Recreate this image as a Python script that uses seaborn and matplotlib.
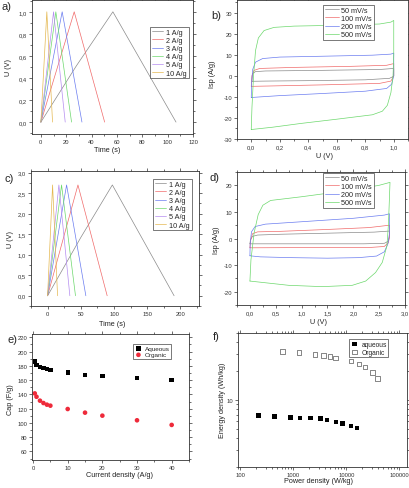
import matplotlib
matplotlib.use("Agg")
import matplotlib.pyplot as plt
import matplotlib.ticker as mticker
import seaborn as sns
import numpy as np

# ---------------- data ----------------
rates = ['1 A/g', '2 A/g', '3 A/g', '4 A/g', '5 A/g', '10 A/g']
gcd_colors = ['#8a8a8a', '#f06a6a', '#6a7cf0', '#6cd86c', '#b48cf0', '#e4b850']

# a) aqueous charge/discharge: time (s) and voltage (V)
a_time = [[0, 28, 56.8, 106.6], [0, 26.3, 50.3], [0, 16.8, 32.4],
          [0, 11.8, 24.2], [0, 10.0, 19.2], [0, 4.7, 9.2]]
a_volt = [[0, 0.51, 1.0, 0], [0, 1.0, 0], [0, 1.0, 0],
          [0, 1.0, 0], [0, 1.0, 0], [0, 1.0, 0]]

# c) organic charge/discharge
c_time = [[0, 50, 97.5, 190.5], [0, 45.7, 89.7], [0, 28.6, 57.6],
          [0, 21.0, 42.0], [0, 17.0, 33.5], [0, 7.5, 15.0]]
c_volt = [[0, 1.42, 2.7, 0], [0, 2.7, 0], [0, 2.7, 0],
          [0, 2.7, 0], [0, 2.7, 0], [0, 2.7, 0]]

scans = ['50 mV/s', '100 mV/s', '200 mV/s', '500 mV/s']
cv_colors = ['#8a8a8a', '#f06a6a', '#6a7cf0', '#6cd86c']

# b) aqueous CV loops: potential (V), specific current (A/g)
b_u = [
    [0.005, 0.008, 0.03, 0.1, 0.5, 0.9, 1.0, 1.0, 0.97, 0.8, 0.4, 0.1, 0.005],
    [0.0, 0.005, 0.02, 0.06, 0.3, 0.7, 0.95, 1.0, 1.0, 0.98, 0.9, 0.5, 0.15, 0.0],
    [0.0, 0.003, 0.01, 0.03, 0.08, 0.2, 0.5, 0.85, 0.98, 1.0, 1.0, 0.985, 0.95,
     0.8, 0.5, 0.2, 0.02, 0.0],
    [0.0, 0.005, 0.016, 0.03, 0.05, 0.09, 0.16, 0.3, 0.6, 0.9, 0.98, 1.0, 1.0,
     0.995, 0.98, 0.955, 0.92, 0.85, 0.6, 0.35, 0.15, 0.0],
]
b_i = [
    [-2.6, 1.0, 2.0, 2.3, 2.6, 3.0, 3.5, -0.2, -1.2, -1.9, -2.3, -2.5, -2.6],
    [-5.0, 0.0, 2.6, 3.5, 4.0, 4.5, 5.0, 5.8, 0.0, -2.5, -3.6, -4.3, -4.8, -5.0],
    [-10.3, -3.0, 3.0, 6.5, 8.2, 8.9, 9.3, 9.8, 10.3, 10.8, 0.0, -4.0, -6.0,
     -7.3, -8.4, -9.4, -10.2, -10.3],
    [-25.5, -15.0, 0.0, 12.0, 18.0, 21.5, 23.0, 23.6, 24.0, 24.6, 25.5, 26.3, 10.0,
     0.0, -8.0, -14.0, -16.8, -18.5, -20.6, -22.6, -24.4, -25.5],
]

# d) organic CV loops
d_u = [
    [0.0, 0.01, 0.05, 0.15, 0.6, 1.5, 2.4, 2.7, 2.7, 2.68, 2.6, 2.2, 1.0, 0.0],
    [0.0, 0.01, 0.05, 0.15, 0.6, 1.5, 2.3, 2.7, 2.7, 2.68, 2.6, 2.3, 1.2, 0.0],
    [0.0, 0.005, 0.03, 0.1, 0.3, 1.0, 2.0, 2.6, 2.7, 2.7, 2.67, 2.6, 2.45, 2.1,
     1.5, 0.8, 0.2, 0.0],
    [0.0, 0.02, 0.08, 0.16, 0.25, 0.4, 1.0, 1.5, 2.0, 2.5, 2.71, 2.68, 2.65,
     2.56, 2.43, 2.24, 1.98, 1.4, 0.75, 0.0],
]
d_i = [
    [-2.0, -0.5, 0.8, 1.3, 1.6, 2.0, 2.4, 2.8, 0.5, -1.0, -1.8, -2.0, -2.0, -2.0],
    [-3.5, -1.0, 1.8, 2.5, 2.7, 3.4, 4.1, 5.0, 1.0, -1.5, -3.0, -3.4, -3.4, -3.5],
    [-6.5, -2.0, 2.5, 4.5, 5.4, 6.3, 7.6, 8.8, 9.3, 2.0, -2.0, -5.0, -6.6, -7.2,
     -7.4, -7.2, -6.9, -6.5],
    [-16.0, -8.0, 2.0, 9.0, 12.5, 14.3, 15.7, 17.0, 18.3, 20.0, 21.1, 5.4, -2.8,
     -9.0, -12.8, -16.0, -17.6, -18.1, -17.6, -16.0],
]

# e) specific capacitance vs current density
e_current = [0.5, 1, 2, 3, 4, 5, 10, 15, 20, 30, 40]
e_aqueous = [186, 181.4, 178.1, 176.7, 175.8, 174.4, 170.7, 167.4, 165.6, 162.8, 160.5]
e_organic = [141.4, 136.7, 131.2, 127.9, 125.6, 124.2, 119.5, 114.4, 110.2, 103.7, 97.2]

# f) Ragone plot
f_aq_power = [219, 441, 885, 1327, 2117, 3273, 4365, 6380, 8420, 12100, 15960]
f_aq_energy = [6.9, 6.73, 6.57, 6.52, 6.47, 6.42, 6.17, 5.92, 5.69, 5.37, 5.08]
f_org_power = [624, 1271, 2553, 3724, 4980, 6195, 12100, 17180, 22600, 31100, 38700]
f_org_energy = [32.2, 31.2, 29.7, 29.0, 28.3, 27.6, 25.7, 23.9, 22.2, 19.4, 16.8]

# ---------------- figure ----------------
sns.set_style("ticks")
plt.rcParams['font.family'] = ['Liberation Sans', 'DejaVu Sans']

W, H = 409, 489
fig = plt.figure(figsize=(W / 100, H / 100), dpi=100)


def fxy(x, y):
    return (x / W, 1 - y / H)


def add_ax(l, t, r, b):
    return fig.add_axes([l / W, 1 - b / H, (r - l) / W, (b - t) / H])


def comma(fmt):
    return mticker.FuncFormatter(lambda v, p: fmt.format(v).replace('.', ','))


def style(ax):
    for s in ax.spines.values():
        s.set_linewidth(0.6)
        s.set_color('#333333')
    ax.tick_params(which='both', direction='out', top=True, right=True, width=0.5,
                   labelsize=4.2, pad=1.5, color='#333333', labelcolor='#333333')
    ax.tick_params(which='major', length=2)
    ax.tick_params(which='minor', length=1.1)


def labels(ax, xl, xpos, yl, ypos):
    ax.set_xlabel(xl, fontsize=5.2, va='center', color='#222222')
    ax.xaxis.set_label_coords(*fxy(*xpos), transform=fig.transFigure)
    ax.set_ylabel(yl, fontsize=5.2, va='center', color='#222222')
    ax.yaxis.set_label_coords(*fxy(*ypos), transform=fig.transFigure)


def legend(ax, x, y, fs, **kw):
    leg = ax.legend(loc='upper left', bbox_to_anchor=fxy(x, y),
                    bbox_transform=fig.transFigure, borderaxespad=0, fontsize=fs,
                    frameon=True, fancybox=False, framealpha=1, edgecolor='#444444',
                    borderpad=0.25, labelspacing=0.15, handletextpad=0.4, **kw)
    leg.get_frame().set_linewidth(0.5)
    return leg


def panel(x, y, s):
    fig.text(*fxy(x, y), s, fontsize=8, ha='center', va='center')


# a)
ax = add_ax(32, 1, 193, 135)
for t, u, name, c in zip(a_time, a_volt, rates, gcd_colors):
    sns.lineplot(x=t, y=u, sort=False, estimator=None, color=c, lw=0.5, label=name, ax=ax)
ax.set_xlim(-7, 120)
ax.set_ylim(-0.108, 1.107)
ax.xaxis.set_major_locator(mticker.MultipleLocator(20))
ax.xaxis.set_minor_locator(mticker.MultipleLocator(10))
ax.yaxis.set_major_locator(mticker.MultipleLocator(0.2))
ax.yaxis.set_minor_locator(mticker.MultipleLocator(0.1))
ax.yaxis.set_major_formatter(comma('{:.1f}'))
style(ax)
labels(ax, 'Time (s)', (107, 151), 'U (V)', (8, 68))
legend(ax, 150, 28, 5.2, handlelength=1.6)
panel(6, 7, 'a)')

# b)
ax = add_ax(237, 1, 408, 140)
for u, i, name, c in zip(b_u, b_i, scans, cv_colors):
    sns.lineplot(x=u, y=i, sort=False, estimator=None, color=c, lw=0.5, label=name, ax=ax)
ax.set_xlim(-0.1, 1.1)
ax.set_ylim(-30, 36)
ax.xaxis.set_major_locator(mticker.MultipleLocator(0.2))
ax.xaxis.set_minor_locator(mticker.MultipleLocator(0.1))
ax.yaxis.set_major_locator(mticker.FixedLocator([-30, -20, -10, 0, 10, 20, 30]))
ax.yaxis.set_minor_locator(mticker.MultipleLocator(5))
ax.xaxis.set_major_formatter(comma('{:.1f}'))
ax.yaxis.set_major_formatter(comma('{:.0f}'))
style(ax)
labels(ax, 'U (V)', (325, 157), 'Isp (A/g)', (213, 74))
legend(ax, 323, 6, 5.2, handlelength=1.9)
panel(216, 16, 'b)')

# c)
ax = add_ax(31, 172, 199, 307)
for t, u, name, c in zip(c_time, c_volt, rates, gcd_colors):
    sns.lineplot(x=t, y=u, sort=False, estimator=None, color=c, lw=0.5, label=name, ax=ax)
ax.set_xlim(-25, 228)
ax.set_ylim(-0.25, 3.04)
ax.xaxis.set_major_locator(mticker.MultipleLocator(50))
ax.xaxis.set_minor_locator(mticker.MultipleLocator(25))
ax.yaxis.set_major_locator(mticker.MultipleLocator(0.5))
ax.yaxis.set_minor_locator(mticker.MultipleLocator(0.25))
ax.yaxis.set_major_formatter(comma('{:.1f}'))
style(ax)
labels(ax, 'Time (s)', (112, 325), 'U (V)', (11, 240))
legend(ax, 153, 180, 5.2, handlelength=1.6)
panel(9, 179, 'c)')

# d)
ax = add_ax(237, 173, 405, 306)
for u, i, name, c in zip(d_u, d_i, scans, cv_colors):
    sns.lineplot(x=u, y=i, sort=False, estimator=None, color=c, lw=0.5, label=name, ax=ax)
ax.set_xlim(-0.25, 3.0)
ax.set_ylim(-25, 25)
ax.xaxis.set_major_locator(mticker.MultipleLocator(0.5))
ax.xaxis.set_minor_locator(mticker.MultipleLocator(0.25))
ax.yaxis.set_major_locator(mticker.FixedLocator([-20, -10, 0, 10, 20]))
ax.yaxis.set_minor_locator(mticker.MultipleLocator(5))
ax.xaxis.set_major_formatter(comma('{:.1f}'))
ax.yaxis.set_major_formatter(comma('{:.0f}'))
style(ax)
labels(ax, 'U (V)', (319, 323), 'Isp (A/g)', (216, 240))
legend(ax, 323, 174, 5.2, handlelength=1.9)
panel(214, 178, 'd)')

# e)
ax = add_ax(32, 335, 189, 461)
sns.scatterplot(x=e_current, y=e_aqueous, marker='s', color='black', s=10,
                edgecolor='none', label='Aqueous', ax=ax)
sns.scatterplot(x=e_current, y=e_organic, marker='o', color='#ee2a3a', s=11,
                edgecolor='none', label='Organic', ax=ax)
ax.set_xlim(-0.3, 45)
ax.set_ylim(48, 224.7)
ax.xaxis.set_major_locator(mticker.MultipleLocator(10))
ax.xaxis.set_minor_locator(mticker.MultipleLocator(5))
ax.yaxis.set_major_locator(mticker.MultipleLocator(20))
ax.yaxis.set_minor_locator(mticker.MultipleLocator(10))
style(ax)
labels(ax, 'Current density (A/g)', (119, 476), 'Cap (F/g)', (11, 400))
legend(ax, 133, 345, 4.6, handlelength=1.2, markerscale=1.0)
panel(12, 340, 'e)')

# f)
ax = add_ax(238, 334, 407, 468)
ax.set_xscale('log')
ax.set_yscale('log')
sns.scatterplot(x=f_aq_power, y=f_aq_energy, marker='s', color='black', s=10,
                edgecolor='none', label='aqueous', ax=ax)
sns.scatterplot(x=f_org_power, y=f_org_energy, marker='s', facecolor='none',
                edgecolor='#555555', linewidth=0.5, s=10, label='Organic', ax=ax)
ax.set_xlim(90, 140000)
ax.set_ylim(2, 50)
ax.xaxis.set_major_locator(mticker.LogLocator(base=10))
ax.yaxis.set_major_locator(mticker.LogLocator(base=10))
ax.xaxis.set_major_formatter(mticker.FuncFormatter(lambda v, p: f'{v:.0f}'))
ax.yaxis.set_major_formatter(mticker.FuncFormatter(lambda v, p: f'{v:.0f}'))
ax.xaxis.set_minor_formatter(mticker.NullFormatter())
ax.yaxis.set_minor_formatter(mticker.NullFormatter())
style(ax)
labels(ax, 'Power density (W/kg)', (318, 482), 'Energy density (Wh/kg)', (223, 400))
legend(ax, 349, 340, 4.8, handlelength=1.2)
panel(216, 337, 'f)')

fig.savefig('out.png', dpi=100)
